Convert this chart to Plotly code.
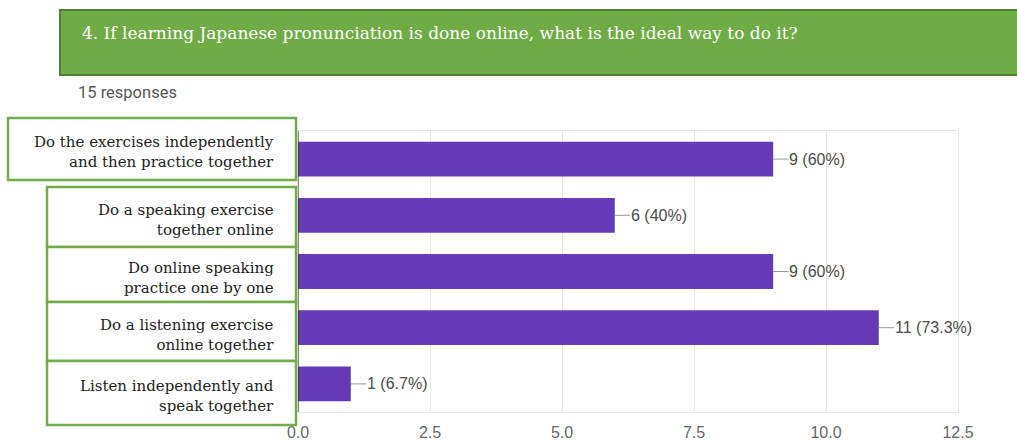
import plotly.graph_objects as go

# ---- data ----
categories = [
    "Do the exercises independently<br>and then practice together",
    "Do a speaking exercise<br>together online",
    "Do online speaking<br>practice one by one",
    "Do a listening exercise<br>online together",
    "Listen independently and<br>speak together",
]
counts = [9, 6, 9, 11, 1]
total_responses = 15
x_ticks = [0, 2.5, 5, 7.5, 10, 12.5]
title_text = "4. If learning Japanese pronunciation is done online, what is the ideal way to do it?"
subtitle_text = "15 responses"

W, H = 1017, 442
def px(x):
    return x / W
def py(y):
    return 1 - y / H

PLOT_L, PLOT_R, PLOT_T, PLOT_B = 298, 958, 131, 412
GREEN = "#70AD47"
GREEN_DARK = "#507E32"
PURPLE = "#673AB7"

boxes = [(8, 118, 296, 180), (47, 187, 296, 247), (47, 247, 296, 302),
         (47, 302, 296, 361), (47, 361, 296, 425)]

fig = go.Figure()
fig.add_trace(go.Bar(
    x=counts, y=categories, orientation="h",
    marker=dict(color=PURPLE, line=dict(width=0)),
    width=0.62, hoverinfo="skip",
))

shapes = []
annotations = []

shapes.append(dict(type="rect", xref="paper", yref="paper",
                   x0=px(60), x1=px(1030), y0=py(75), y1=py(10),
                   fillcolor="#6FAC46", line=dict(color=GREEN_DARK, width=2),
                   layer="above"))
annotations.append(dict(x=px(80), y=py(33), xref="paper", yref="paper",
                        text=title_text, showarrow=False, xanchor="left", yanchor="middle",
                        font=dict(family="DejaVu Serif", size=17, color="white")))
annotations.append(dict(x=px(76), y=py(92), xref="paper", yref="paper",
                        text=subtitle_text, showarrow=False, xanchor="left", yanchor="middle",
                        font=dict(family="Roboto", size=16.5, color="#555555")))

shapes.append(dict(type="line", xref="x", yref="paper", x0=0, x1=0,
                   y0=py(PLOT_B), y1=py(PLOT_T), line=dict(color="#333333", width=1.2),
                   layer="above"))

for cat, v in zip(categories, counts):
    pct = v / total_responses * 100
    pct_txt = f"{pct:.1f}".rstrip("0").rstrip(".")
    shapes.append(dict(type="line", xref="x", yref="y", x0=v, x1=v + 0.29,
                       y0=cat, y1=cat, line=dict(color="#999999", width=1)))
    annotations.append(dict(x=v, y=cat, xref="x", yref="y", text=f"{v} ({pct_txt}%)",
                            showarrow=False, xanchor="left", yanchor="middle", xshift=14,
                            font=dict(family="Liberation Sans", size=16, color="#4a4a4a")))

for cat, (x0, y0, x1, y1) in zip(categories, boxes):
    shapes.append(dict(type="rect", xref="paper", yref="paper",
                       x0=px(x0), x1=px(x1), y0=py(y1), y1=py(y0),
                       fillcolor="white", line=dict(color=GREEN, width=2.5),
                       layer="above"))
    annotations.append(dict(x=px(276), y=py((y0 + y1) / 2 + 3), xref="paper", yref="paper",
                            text=cat, showarrow=False, xanchor="right", yanchor="middle",
                            align="right",
                            font=dict(family="DejaVu Serif", size=15, color="#222222")))

fig.update_layout(
    width=W, height=H,
    margin=dict(l=0, r=0, t=0, b=0, pad=0, autoexpand=False),
    paper_bgcolor="white", plot_bgcolor="white",
    showlegend=False,
    xaxis=dict(domain=[px(PLOT_L), px(PLOT_R)], range=[0, 12.5],
               tickvals=x_ticks, tickformat=".1f", automargin=False,
               showgrid=True, gridcolor="#e6e6e6", gridwidth=1,
               zeroline=False, showline=True, mirror=True, linecolor="#e6e6e6",
               ticks="", ticklabelstandoff=6,
               tickfont=dict(family="Liberation Sans", size=16, color="#666666")),
    yaxis=dict(domain=[py(PLOT_B), py(PLOT_T)], autorange="reversed", automargin=False,
               showticklabels=False, showgrid=False, zeroline=False,
               showline=True, mirror=True, linecolor="#e6e6e6", ticks=""),
    shapes=shapes, annotations=annotations,
    bargap=0.38,
)

fig.write_html("out.html", config={"displayModeBar": False},
               post_script="document.body.style.margin='0';document.body.style.overflow='hidden';")
